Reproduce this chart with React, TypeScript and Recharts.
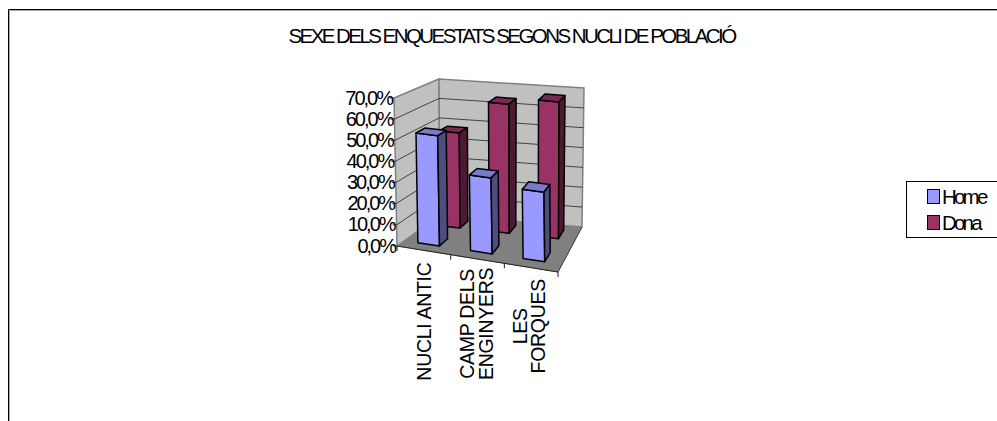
import React from 'react';
import { BarChart, Bar, XAxis, YAxis, Legend, Customized } from 'recharts';

const categories = ['NUCLI ANTIC', 'CAMP DELS ENGINYERS', 'LES FORQUES'];
const categoryLines = [['NUCLI ANTIC'], ['CAMP DELS', 'ENGINYERS'], ['LES', 'FORQUES']];
const homeValues = [52.6, 36, 32.7];
const donaValues = [47.4, 64, 67.3];
const yTicks = [0, 10, 20, 30, 40, 50, 60, 70];
const titleText = 'SEXE DELS ENQUESTATS SEGONS NUCLI DE POBLACIÓ';

const data = categories.map((c, i) => ({ name: c, Home: homeValues[i], Dona: donaValues[i] }));

const FONT = '"Liberation Sans", Arial, sans-serif';
const LEFT = 397, RIGHT = 558, TOP = 98, BOTTOM = 246;
const PW = RIGHT - LEFT, PH = BOTTOM - TOP;

type Pt = [number, number];
const FBL: Pt = [397, 246], FBR: Pt = [558, 272], BBL: Pt = [440, 215], BBR: Pt = [582, 227];
const FTL: Pt = [394, 98], FTR: Pt = [556, 121], BTL: Pt = [439, 79], BTR: Pt = [584, 88];
const mix = (a: Pt, b: Pt, t: number): Pt => [a[0] + (b[0] - a[0]) * t, a[1] + (b[1] - a[1]) * t];
const project = (u: number, v: number, d: number): Pt => {
  const fb = mix(FBL, FBR, u), bb = mix(BBL, BBR, u), ft = mix(FTL, FTR, u), bt = mix(BTL, BTR, u);
  return mix(mix(fb, bb, d), mix(ft, bt, d), v);
};
const poly = (pts: Pt[]) => pts.map((p) => `${p[0].toFixed(1)},${p[1].toFixed(1)}`).join(' ');

const Walls = () => {
  const edge = '#808080';
  return (
    <g>
      <path d="M8.5 421 L8.5 9.5 L997 9.5" fill="none" stroke="#000" strokeWidth={1} />
      <path d="M9.5 421 L9.5 10.5 L997 10.5" fill="none" stroke="#aaa" strokeWidth={1} />
      <polygon points={poly([FBL, FBR, BBR, BBL])} fill="#808080" stroke={edge} />
      <polygon points={poly([FBL, BBL, BTL, FTL])} fill="#C0C0C0" stroke={edge} strokeWidth={1.5} />
      <polygon points={poly([BBL, BBR, BTR, BTL])} fill="#C0C0C0" stroke={edge} strokeWidth={1.5} />
      {yTicks.slice(1, -1).map((t) => {
        const v = t / 70;
        return (
          <polyline key={t} fill="none" stroke="#222" strokeWidth={0.8}
            points={poly([project(0, v, 0), project(0, v, 1), project(1, v, 1)])} />
        );
      })}
      <line x1={FBL[0]} y1={FBL[1]} x2={FBR[0]} y2={FBR[1]} stroke="#222" strokeWidth={1} />
      <line x1={FBR[0]} y1={FBR[1]} x2={BBR[0]} y2={BBR[1]} stroke="#444" strokeWidth={1} />
      {[0, 1 / 3, 2 / 3, 1].map((u) => {
        const p = project(u, 0, 0);
        return <line key={u} x1={p[0]} y1={p[1]} x2={p[0]} y2={p[1] + 5} stroke="#222" strokeWidth={1} />;
      })}
      <text x={511.5} y={43} textAnchor="middle" fontFamily={FONT} fontSize={20.5} letterSpacing={-2.55} fill="#000">
        {titleText}
      </text>
    </g>
  );
};

const makeBar = (dNear: number, dFar: number, front: string, top: string, side: string) => (props: any) => {
  const { x, y, width, height } = props;
  const shift = -0.013;
  const u0 = (x - LEFT) / PW + shift;
  const u1 = (x + width - LEFT) / PW + shift;
  const v1 = (BOTTOM - y) / PH;
  const v0 = (BOTTOM - (y + height)) / PH;
  const a = project(u0, v0, dNear), b = project(u1, v0, dNear), c = project(u1, v1, dNear), e = project(u0, v1, dNear);
  const f = project(u1, v0, dFar), g = project(u1, v1, dFar), h = project(u0, v1, dFar);
  const s = { stroke: '#000', strokeWidth: 1.5, strokeLinejoin: 'round' as const };
  return (
    <g>
      <polygon points={poly([a, b, c, e])} fill={front} {...s} />
      <polygon points={poly([e, c, g, h])} fill={top} {...s} />
      <polygon points={poly([b, f, g, c])} fill={side} {...s} />
    </g>
  );
};

const HomeBar = makeBar(0.17, 0.38, '#9999FF', '#7A7ACC', '#4D4D80');
const DonaBar = makeBar(0.7, 0.9, '#993366', '#7A2952', '#4D1A33');

const YTick = (props: any) => {
  const { y, payload } = props;
  const v = (BOTTOM - y) / PH;
  const p = project(0, v, 0);
  const label = `${payload.value},0%`;
  return (
    <g>
      <line x1={p[0] - 4} y1={p[1]} x2={p[0]} y2={p[1]} stroke="#333" />
      <text x={p[0] - 2} y={p[1] + 6.5} textAnchor="end" fontFamily={FONT} fontSize={20} letterSpacing={-2} fill="#000">
        {label}
      </text>
    </g>
  );
};

const XTick = (props: any) => {
  const { x, index } = props;
  const u = (x - LEFT) / PW;
  const p = project(u, 0, 0);
  const cx = 424.5 + (p[0] - 424) * 0.975;
  const cy = 321.5 + (p[1] - 250) * 0.27;
  const lines = categoryLines[index] || [];
  return (
    <g>
      {lines.map((line, i) => {
        const off = 7 - ((lines.length - 1) / 2) * 18.5 + i * 18.5;
        return (
          <text key={line} x={cx} y={cy} textAnchor="middle" fontFamily={FONT} fontSize={19.5} letterSpacing={-0.3} fill="#000"
            transform={`rotate(-90 ${cx} ${cy}) translate(0 ${off})`}>
            {line}
          </text>
        );
      })}
    </g>
  );
};

const LegendBox = (props: any) => {
  const items = [...(props.payload || [])].reverse();
  return (
    <div style={{ width: 91, height: 57, boxSizing: 'border-box', border: '1px solid #000', borderRight: 'none', position: 'relative', background: '#fff' }}>
      {items.map((it: any, i: number) => (
        <div key={it.value} style={{ position: 'absolute', left: 20, top: 7 + i * 26, height: 15, display: 'flex', alignItems: 'center' }}>
          <span style={{ width: 11, height: 13, background: it.color, border: '1.5px solid #000', display: 'inline-block', boxSizing: 'content-box', marginRight: 2 }} />
          <span style={{ fontFamily: FONT, fontSize: 20.5, letterSpacing: -2.8, color: '#000', lineHeight: '15px' }}>{it.value}</span>
        </div>
      ))}
    </div>
  );
};

export default function App() {
  return (
    <div style={{ position: 'fixed', left: 0, top: 0, width: 997, height: 421, overflow: 'hidden', background: '#fff' }}>
      <BarChart width={997} height={421} data={data} barSize={22} barGap={-22} barCategoryGap="60%"
        margin={{ top: TOP, left: LEFT - 60, right: 997 - RIGHT, bottom: 421 - BOTTOM - 120 }}>
        <Customized component={<Walls />} />
        <XAxis dataKey="name" height={120} axisLine={false} tickLine={false} interval={0} tick={<XTick />} />
        <YAxis width={60} domain={[0, 70]} ticks={yTicks} axisLine={false} tickLine={false} tick={<YTick />} interval={0} />
        <Legend layout="vertical" align="center" verticalAlign="middle" content={<LegendBox />}
          wrapperStyle={{ position: 'absolute', left: 906, top: 181, width: 91, height: 57, margin: 0 }} />
        <Bar dataKey="Dona" fill="#993366" isAnimationActive={false} shape={DonaBar} />
        <Bar dataKey="Home" fill="#9999FF" isAnimationActive={false} shape={HomeBar} />
      </BarChart>
    </div>
  );
}
